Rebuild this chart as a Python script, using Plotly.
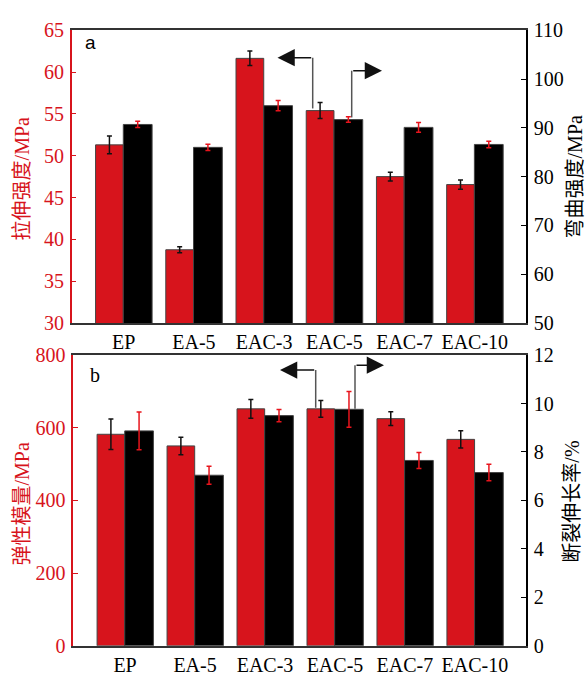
import plotly.graph_objects as go

W, H = 588, 682

categories = ["EP", "EA-5", "EAC-3", "EAC-5", "EAC-7", "EAC-10"]

tensile = [51.3, 38.75, 61.65, 55.4, 47.5, 46.55]
tensile_err = [1.05, 0.35, 0.87, 0.96, 0.52, 0.56]
flexural = [90.7, 86.0, 94.55, 91.7, 90.1, 86.6]
flexural_err = [0.65, 0.65, 1.05, 0.56, 1.0, 0.66]

modulus = [582, 550, 652, 652, 625, 568]
modulus_err = [42, 24, 26, 23, 19, 24]
elongation = [8.87, 7.04, 9.50, 9.76, 7.65, 7.15]
elongation_err = [0.78, 0.37, 0.25, 0.74, 0.33, 0.34]

top_left_ticks = [30, 35, 40, 45, 50, 55, 60, 65]
top_right_ticks = [50, 60, 70, 80, 90, 100, 110]
bot_left_ticks = [0, 200, 400, 600, 800]
bot_right_ticks = [0, 2, 4, 6, 8, 10, 12]

RED = "#d7141c"
ERR_RED = "#e8141c"
OUTLINE = "#444444"
SERIF = "Liberation Serif, Times New Roman, serif"
CJK = "Liberation Serif, Noto Sans CJK SC, serif"


def px(x, y):
    return x / W, 1 - y / H


fig = go.Figure()


def add_bars(yvals, errs, color, errcolor, xaxis, yaxis, offset, width):
    fig.add_trace(go.Bar(
        x=categories, y=yvals, xaxis=xaxis, yaxis=yaxis,
        offset=offset, width=width,
        marker=dict(color=color, line=dict(color=OUTLINE, width=1)),
        error_y=dict(type="data", array=errs, color=errcolor, thickness=1.5, width=2.5),
        showlegend=False, hoverinfo="skip",
    ))


add_bars(tensile, tensile_err, RED, "#111111", "x", "y", -0.40, 0.395)
add_bars(flexural, flexural_err, "#000000", ERR_RED, "x", "y2", -0.005, 0.41)
add_bars(modulus, modulus_err, RED, "#111111", "x2", "y3", -0.40, 0.395)
add_bars(elongation, elongation_err, "#000000", ERR_RED, "x2", "y4", -0.005, 0.41)

tick_font = dict(family=SERIF, size=20, color="#000000")
red_tick_font = dict(family=SERIF, size=20, color=RED)

xcommon = dict(
    type="category", range=[-0.74, 5.73], showline=True, linecolor="#333333",
    linewidth=1.5, mirror=True, ticks="", tickfont=tick_font, showgrid=False,
    zeroline=False,
)

top_x0, top_y0 = px(71.7, 322.3)
top_x1, top_y1 = px(526, 20)
bot_x0, bot_y0 = px(73.3, 656)
bot_x1, bot_y1 = px(526, 355.5)

fig.update_layout(
    width=W, height=H, margin=dict(l=0, r=0, t=0, b=0),
    paper_bgcolor="white", plot_bgcolor="white",
    barmode="overlay",
    xaxis=dict(domain=[top_x0, top_x1], anchor="y", **xcommon),
    xaxis2=dict(domain=[bot_x0, bot_x1], anchor="y3", **xcommon),
    yaxis=dict(domain=[top_y0, top_y1], anchor="x", range=[30, 65],
               tickvals=top_left_ticks, ticks="inside", ticklen=5, tickcolor=RED,
               showline=True, linecolor=RED, linewidth=1.5, tickfont=red_tick_font,
               showgrid=False, zeroline=False, ticklabelstandoff=2),
    yaxis2=dict(overlaying="y", anchor="x", side="right", range=[50, 110],
                tickvals=top_right_ticks, ticks="inside", ticklen=5, tickcolor="#000",
                showline=True, linecolor="#000", linewidth=1.5, tickfont=tick_font,
                showgrid=False, zeroline=False, ticklabelstandoff=2),
    yaxis3=dict(domain=[bot_y0, bot_y1], anchor="x2", range=[0, 800],
                tickvals=bot_left_ticks, ticks="inside", ticklen=5, tickcolor=RED,
                showline=True, linecolor=RED, linewidth=1.5, tickfont=red_tick_font,
                showgrid=False, zeroline=False, ticklabelstandoff=2),
    yaxis4=dict(overlaying="y3", anchor="x2", side="right", range=[0, 12],
                tickvals=bot_right_ticks, ticks="inside", ticklen=5, tickcolor="#000",
                showline=True, linecolor="#000", linewidth=1.5, tickfont=tick_font,
                showgrid=False, zeroline=False, ticklabelstandoff=2),
)

annotations = []
shapes = []


def title(text, x, y, color):
    ax_, ay_ = px(x, y)
    annotations.append(dict(text=text, x=ax_, y=ay_, xref="paper", yref="paper",
                            xanchor="center", yanchor="middle",
                            showarrow=False, textangle=-90,
                            font=dict(family=CJK, size=20, color=color)))


title("拉伸强度/MPa", 22, 174, RED)
title("弯曲强度/MPa", 575, 172, "#000000")
title("弹性模量/MPa", 22, 510, RED)
title("断裂伸长率/%", 572, 507, "#000000")


def label(text, x, y, family, size):
    ax_, ay_ = px(x, y)
    annotations.append(dict(text=text, x=ax_, y=ay_, xref="paper", yref="paper",
                            xanchor="center", yanchor="middle",
                            showarrow=False, font=dict(family=family, size=size, color="#000")))


label("a", 90.5, 33, "Liberation Sans, Arial, sans-serif", 19)
label("b", 95, 376, SERIF, 20)


def bent_arrow(x_vert, y_low, y_high, x_tip):
    a0, b0 = px(x_vert, y_low)
    a1, b1 = px(x_vert, y_high)
    shapes.append(dict(type="line", xref="paper", yref="paper", x0=a0, y0=b0, x1=a1, y1=b1,
                       line=dict(color="#555555", width=1.5)))
    tx, ty = px(x_tip, y_high)
    annotations.append(dict(text="", x=tx, y=ty, xref="paper", yref="paper",
                            showarrow=True, ax=x_vert - x_tip, ay=0,
                            arrowhead=2, arrowsize=2.3, arrowwidth=1.5,
                            arrowcolor="#111111", standoff=0, startstandoff=0))


bent_arrow(312.7, 100.7, 48.3, 277.5)
bent_arrow(351.7, 110, 61.7, 382)
bent_arrow(315.7, 410, 371, 280)
bent_arrow(355, 411, 366, 384)

fig.update_layout(annotations=annotations, shapes=shapes)

fig.write_html("out.html")
